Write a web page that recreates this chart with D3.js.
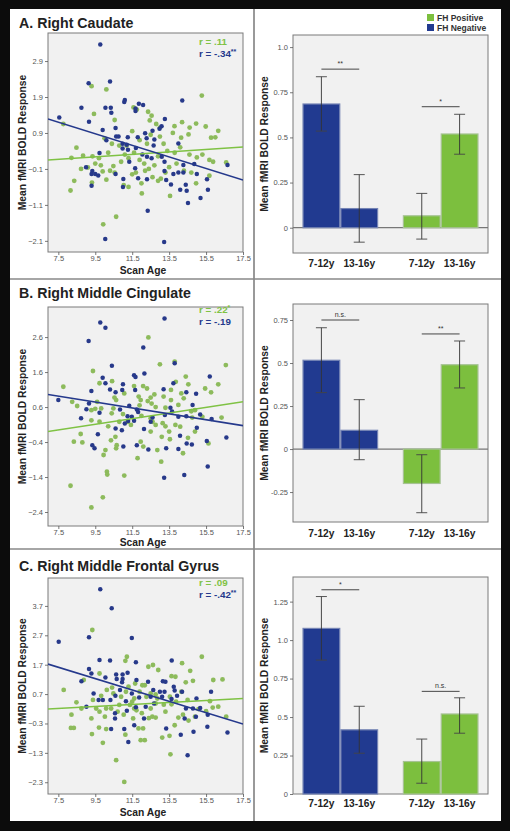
<!DOCTYPE html>
<html><head><meta charset="utf-8">
<script src="https://cdn.jsdelivr.net/npm/d3@7"></script>
<style>body{margin:0;background:#000}svg{display:block;font-family:"Liberation Sans",Arial,Helvetica,sans-serif}</style>
</head><body><svg id="c" width="510" height="831"></svg>
<script>
// ---------- DATA ----------
const titles = ["A. Right Caudate", "B. Right Middle Cingulate", "C. Right Middle Frontal Gyrus"];
const ageTicks = [7.5, 9.5, 11.5, 13.5, 15.5, 17.5];
const ageDomain = [6.94, 17.5];
const scatterYTicks = [[-2.1,-1.1,-0.1,0.9,1.9,2.9],[-2.4,-1.4,-0.4,0.6,1.6,2.6],[-2.3,-1.3,-0.3,0.7,1.7,2.7,3.7]];
const scatterYDomain = [[-2.41,3.68],[-2.8,3.46],[-2.7,4.65]];
const rPositive = [["r = .11",""],["r = .22","*"],["r = .09",""]];
const rNegative = [["r = -.34","**"],["r = -.19",""],["r = -.42","**"]];
// regression line end values at ageDomain ends
const fitPositive = [[0.15,0.51],[-0.1,0.75],[0.19,0.55]];
const fitNegative = [[1.29,-0.41],[0.96,0.07],[1.72,-0.32]];

const caudateNeg = [[9.77,3.36],[9.14,2.28],[10.3,2.33],[8.75,1.6],[10.05,1.6],[10.34,1.6],[10.37,1.46],[9.16,1.21],[7.55,1.33],[11.1,1.82],[11.07,1.76],[11.86,1.71],[12.09,1.68],[11.68,1.58],[11.68,1.51],[14.21,1.8],[9.9,0.98],[10.6,1.04],[13.27,1.29],[13.09,1.09],[12.98,1.02],[12.6,0.96],[10.63,0.8],[10.76,0.8],[11.26,0.78],[11.8,0.78],[12.2,0.89],[12.28,0.75],[12.7,0.72],[12.66,0.55],[10.98,0.6],[11.2,0.57],[11.27,0.43],[10.98,0.47],[11.7,0.48],[10.1,0.7],[9.73,0.34],[11.34,0.1],[12.3,0.24],[12.55,0.2],[13.1,0.24],[13.25,0.1],[14.0,0.61],[14.27,0.01],[14.86,0.04],[9.0,-0.05],[9.34,-0.16],[9.3,-0.24],[9.5,-0.24],[9.3,-0.57],[9.66,-0.28],[10.6,-0.24],[11.02,-0.38],[11.66,-0.08],[11.82,-0.36],[12.3,-0.39],[13.25,-0.16],[13.34,-0.41],[13.6,-0.53],[13.73,-0.24],[14.0,-0.2],[14.27,-0.2],[15.0,-0.24],[14.4,-0.54],[14.1,-0.68],[14.45,-0.71],[14.52,-1.05],[15.2,-0.91],[15.6,-0.68],[15.55,-0.39],[16.66,0.01],[12.34,-1.26],[10.04,-2.05],[13.23,-2.13],[11.0,-0.6],[12.05,0.3]];
const caudatePos = [[9.3,2.2],[10.1,2.11],[15.27,1.94],[9.43,1.43],[11.57,1.61],[11.75,1.55],[12.36,1.49],[12.55,1.38],[12.45,1.25],[12.8,1.15],[13.0,1.05],[10.55,1.26],[13.79,1.09],[14.2,1.2],[14.61,1.05],[14.96,1.16],[15.48,1.08],[16.16,0.96],[15.77,0.77],[16.0,0.78],[14.55,0.86],[14.15,0.77],[7.77,1.15],[8.48,0.49],[8.21,0.21],[8.84,0.27],[9.35,0.25],[9.7,0.2],[8.73,-0.1],[9.1,-0.06],[8.36,-0.43],[8.16,-0.7],[9.32,-0.48],[9.9,-0.17],[10.1,-0.4],[10.48,-0.02],[10.55,-0.2],[9.93,-1.64],[10.63,-1.43],[11.04,-0.55],[11.3,-0.6],[12.02,-0.78],[12.0,-0.5],[12.6,-0.33],[12.9,-0.43],[13.55,-0.85],[13.05,-0.37],[14.96,-0.5],[15.68,-0.29],[15.68,0.15],[15.88,0.1],[16.59,0.08],[15.0,0.22],[10.2,0.35],[10.4,0.6],[10.0,0.75],[11.5,0.95],[11.9,0.7],[12.3,0.6],[11.6,0.35],[11.1,0.3],[10.9,0.1],[11.9,0.15],[12.15,0.05],[12.7,0.0],[13.5,-0.05],[13.9,0.05],[14.3,-0.15],[14.7,-0.2],[13.4,0.4],[13.8,0.35],[14.1,0.5],[13.2,0.6],[13.0,0.8],[12.5,0.85],[9.8,0.0],[9.5,0.05],[10.8,0.55],[11.3,0.2],[12.2,-0.15],[13.3,-0.2],[12.4,-0.1],[11.5,-0.25],[11.7,-0.2],[14.6,0.3],[15.3,0.3],[13.7,0.9],[12.9,0.25],[10.3,-0.15],[11.2,0.55]];

const cingulateNeg = [[9.77,3.02],[10.05,2.87],[13.25,3.13],[9.14,2.49],[12.1,2.3],[12.16,1.56],[10.4,1.78],[11.6,1.51],[11.68,1.46],[13.8,1.85],[15.7,1.47],[9.9,1.44],[10.05,1.28],[11.0,1.25],[10.96,1.09],[11.66,1.09],[9.29,1.06],[10.3,1.1],[10.6,1.02],[13.2,1.11],[13.73,1.28],[14.43,1.02],[14.96,0.98],[7.5,0.8],[9.16,0.7],[9.02,0.54],[9.73,0.44],[11.34,0.64],[10.84,0.53],[11.75,0.53],[11.82,0.46],[13.57,0.58],[13.66,0.47],[14.77,0.66],[15.18,0.39],[14.43,0.34],[14.0,0.32],[8.73,0.28],[11.25,0.34],[11.48,0.32],[11.6,0.21],[11.28,0.2],[11.1,0.13],[10.6,-0.01],[10.94,-0.06],[12.14,-0.03],[12.5,0.18],[13.27,0.37],[15.8,0.26],[15.0,0.01],[9.64,-0.18],[9.34,-0.49],[9.46,-0.58],[11.02,-0.53],[11.75,-0.49],[12.375,-0.61],[13.34,-0.58],[14.0,-0.6],[14.09,-0.22],[14.45,-0.44],[14.73,-0.47],[15.54,-0.37],[16.6,-0.27],[15.59,-1.1],[14.32,-1.34],[13.23,-1.42],[12.6,0.3]];
const cingulatePos = [[12.375,2.59],[13.0,1.82],[13.8,1.9],[9.375,1.63],[16.57,1.8],[7.77,1.18],[9.73,1.28],[10.41,1.34],[11.07,0.99],[11.6,1.2],[12.09,1.2],[12.3,1.13],[12.7,0.96],[12.5,0.87],[13.2,0.9],[13.6,1.09],[13.86,1.32],[14.4,1.47],[14.54,1.25],[14.16,0.99],[13.6,0.8],[15.45,1.13],[16.16,1.25],[15.77,1.02],[8.25,0.75],[8.52,0.63],[9.29,0.51],[9.5,0.55],[9.6,0.75],[9.82,0.56],[10.39,0.42],[10.48,0.56],[10.54,0.87],[10.63,0.8],[11.85,0.9],[11.96,0.8],[11.9,0.65],[12.34,0.77],[12.55,0.7],[12.77,0.6],[13.3,0.58],[14.0,0.66],[14.29,0.85],[14.7,0.48],[14.9,0.51],[15.3,0.32],[16.34,0.3],[8.71,-0.17],[8.34,-0.39],[8.8,-0.41],[8.16,-1.65],[9.91,-1.98],[9.29,-2.27],[10.13,-1.25],[10.15,-1.33],[10.05,-0.63],[9.95,-0.77],[10.63,-0.58],[10.66,-0.49],[11.07,-1.36],[11.79,-0.86],[11.96,-0.39],[12.1,-0.53],[12.86,-0.63],[13.07,-0.96],[13.1,-0.25],[13.54,-0.32],[14.25,-0.72],[14.52,-0.28],[14.9,-0.1],[15.63,-0.44],[10.59,-0.25],[10.35,-0.35],[10.8,0.18],[11.25,0.18],[11.43,0.09],[12.5,0.28],[12.6,0.18],[12.77,0.09],[13.15,0.14],[13.3,0.05],[12.5,-0.1],[13.84,0.09],[14.1,0.04],[13.5,-0.1],[9.73,0.18],[9.29,0.22],[10.2,0.05],[14.75,0.3],[11.0,0.4],[12.0,0.35]];

const frontalNeg = [[9.77,4.27],[10.39,3.62],[7.52,2.48],[9.16,2.63],[11.48,2.61],[9.73,1.86],[10.3,1.84],[13.64,1.84],[9.16,1.55],[9.29,1.4],[8.75,1.14],[10.63,1.37],[10.98,1.37],[11.25,1.43],[10.66,1.21],[10.98,1.21],[10.95,1.1],[11.7,1.78],[11.73,1.18],[10.05,1.26],[12.36,1.12],[13.16,1.14],[13.3,1.12],[13.75,0.95],[13.25,0.78],[13.0,0.78],[12.64,0.84],[13.8,0.82],[14.2,0.78],[15.77,0.78],[9.41,0.72],[9.68,0.5],[9.91,0.5],[10.32,0.5],[10.59,0.64],[10.84,0.84],[11.16,0.46],[11.48,0.72],[11.875,0.58],[12.5,0.61],[12.68,0.38],[13.12,0.61],[13.63,0.53],[13.93,0.64],[14.98,0.55],[9.02,0.27],[11.21,0.13],[12.14,-0.13],[12.23,0.27],[14.41,0.21],[14.79,0.21],[15.18,0.23],[14.34,-0.13],[14.95,-0.07],[15.59,0.0],[10.57,0.05],[10.57,-0.13],[11.61,-0.36],[10.36,-0.49],[11.07,-0.49],[13.34,-0.47],[15.57,-0.41],[14.13,-0.68],[14.82,-0.58],[16.66,-0.61],[11.29,-0.93],[14.5,-1.38],[11.7,0.25]];
const frontalPos = [[9.34,2.88],[11.21,1.97],[11.13,1.83],[15.27,1.97],[14.2,1.75],[14.64,1.49],[12.625,1.69],[12.375,1.63],[12.91,1.52],[9.73,1.4],[8.875,1.18],[7.79,0.84],[8.48,0.42],[8.21,0.0],[8.18,-0.45],[8.34,-0.45],[8.75,0.21],[9.29,-0.13],[9.32,-0.66],[9.7,-0.44],[9.91,-0.96],[10.09,-0.49],[10.63,-1.55],[11.07,-2.29],[11.13,-0.68],[11.55,-0.13],[11.84,-0.47],[11.96,-0.87],[12.09,-0.47],[12.18,-0.87],[13.125,-0.78],[13.52,-0.72],[13.57,-1.35],[13.8,-0.36],[14.55,-0.2],[14.9,-0.07],[15.09,0.19],[15.5,0.12],[15.71,0.46],[15.86,0.24],[16.16,0.27],[16.59,-0.07],[15.89,1.18],[16.39,1.2],[14.79,1.15],[14.4,1.1],[13.84,1.29],[13.63,1.31],[14.16,0.78],[13.54,0.61],[13.875,0.44],[13.63,0.35],[14.25,0.0],[13.21,0.34],[12.77,0.38],[12.5,0.21],[12.59,-0.07],[12.77,-0.1],[12.4,-0.12],[12.18,1.0],[12.05,1.0],[11.66,1.06],[11.9,0.78],[11.61,0.55],[11.5,0.44],[11.375,0.33],[11.61,0.21],[11.73,0.15],[12.02,0.05],[10.8,0.33],[10.71,0.1],[10.36,0.21],[10.09,0.21],[10.02,-0.07],[10.48,0.72],[10.41,0.92],[10.125,0.84],[9.82,0.64],[9.375,0.5],[9.55,0.21],[9.73,0.1],[10.9,0.61],[11.04,0.0],[12.5,0.72],[12.77,0.69],[12.86,0.55],[12.27,0.61],[11.16,0.78],[11.3,0.95],[13.3,0.1],[14.0,-0.1],[14.5,0.5]];

const scatterNeg = [caudateNeg, cingulateNeg, frontalNeg];
const scatterPos = [caudatePos, cingulatePos, frontalPos];

const groups = ["FH Negative", "FH Positive"];
const ageGroups = ["7-12y", "13-16y"];
const barYDomain = [[-0.14,1.067],[-0.424,0.843],[0,1.41]];
const barYTicks = [[0,0.25,0.5,0.75,1.0],[-0.25,0,0.25,0.5,0.75],[0,0.25,0.5,0.75,1.0,1.25]];
const barYTickLabels = [["0","0.25","0.5","0.75","1.0"],["-0.25","0","0.25","0.5","0.75"],["0","0.25","0.5","0.75","1.0","1.25"]];
const meansNeg = [[0.685,0.106],[0.516,0.109],[1.076,0.417]];
const meansPos = [[0.066,0.519],[-0.2,0.49],[0.211,0.52]];
const errNeg = [[[0.535,0.836],[-0.08,0.294]],[[0.328,0.705],[-0.062,0.287]],[[0.87,1.283],[0.265,0.57]]];
const errPos = [[[-0.063,0.19],[0.407,0.628]],[[-0.37,-0.033],[0.355,0.628]],[[0.07,0.357],[0.395,0.625]]];
const sigLabelNeg = ["**","n.s.","*"];
const sigLabelPos = ["*","**","n.s."];
const sigLevelNeg = [0.878,0.75,1.327];
const sigLevelPos = [0.67,0.669,0.667];

// ---------- LAYOUT / STYLE ----------
const C = {
  blueDot:"#27398a", greenDot:"#8dbb5c", blueLine:"#25398c", greenLine:"#7fc244",
  blueBar:"#213a90", greenBar:"#7cbf3e", blueBarStroke:"#7584b4", greenBarStroke:"#a6c293",
  plotBg:"#f1f1f1", border:"#7a7a7a", text:"#222", tick:"#555"
};
const scatterBox = [{t:33,b:252},{t:307,b:526},{t:578,b:794}];
const barBox = [{t:35,b:253},{t:304,b:522},{t:577,b:794}];
const titleY = [28,298,571];
const rY = [[45,57],[313,325],[586,598]];
const xLabelY = [274,546,816];
const barLabelY = [267,537,807];
const sxL = 48, sxR = 243, bxL = 293, bxR = 488;

const svg = d3.select("#c");
svg.append("rect").attr("width",510).attr("height",831).attr("fill","#0c0c0c");
svg.append("rect").attr("x",10).attr("y",9).attr("width",491).attr("height",812).attr("fill","#fff");
svg.append("line").attr("x1",254).attr("x2",254).attr("y1",9).attr("y2",821).attr("stroke","#555").attr("stroke-width",1.2);
[279,549].forEach(y=>svg.append("line").attr("x1",10).attr("x2",501).attr("y1",y).attr("y2",y).attr("stroke","#888").attr("stroke-width",1.4));

function styleAxis(g){
  g.select(".domain").remove();
  g.selectAll(".tick line").attr("stroke",C.tick).attr("stroke-width",0.8);
  g.selectAll(".tick text").attr("fill",C.tick).attr("font-size",7.5).attr("font-family","Liberation Sans, Arial, sans-serif");
}

for (let i=0;i<3;i++){
  // ---------- SCATTER ----------
  const box = scatterBox[i];
  const x = d3.scaleLinear().domain(ageDomain).range([sxL,sxR]);
  const y = d3.scaleLinear().domain(scatterYDomain[i]).range([box.b,box.t]);
  svg.append("text").attr("x",19).attr("y",titleY[i]).attr("font-size",14.2).attr("font-weight","bold").attr("fill",C.text).text(titles[i]);
  svg.append("rect").attr("x",sxL).attr("y",box.t).attr("width",sxR-sxL).attr("height",box.b-box.t).attr("fill",C.plotBg).attr("stroke",C.border).attr("stroke-width",1);
  const clipId = "clip"+i;
  svg.append("clipPath").attr("id",clipId).append("rect").attr("x",sxL).attr("y",box.t).attr("width",sxR-sxL).attr("height",box.b-box.t);
  const gx = svg.append("g").attr("transform",`translate(0,${box.b})`).call(d3.axisBottom(x).tickValues(ageTicks).tickFormat(d3.format(".1f")).tickSize(3).tickPadding(0.5));
  styleAxis(gx);
  const gy = svg.append("g").attr("transform",`translate(${sxL},0)`).call(d3.axisLeft(y).tickValues(scatterYTicks[i]).tickFormat(d3.format(".1f")).tickSize(3).tickPadding(2));
  styleAxis(gy);
  svg.append("text").attr("x",143).attr("y",xLabelY[i]).attr("text-anchor","middle").attr("font-size",10.3).attr("font-weight","bold").attr("fill",C.text).text("Scan Age");
  svg.append("text").attr("transform",`translate(26,${(box.t+box.b)/2}) rotate(-90)`).attr("text-anchor","middle").attr("font-size",10.3).attr("font-weight","bold").attr("fill",C.text).text("Mean fMRI BOLD Response");
  const pg = svg.append("g").attr("clip-path",`url(#${clipId})`);
  pg.selectAll("circle.p").data(scatterPos[i]).join("circle").attr("class","p").attr("cx",d=>x(d[0])).attr("cy",d=>y(d[1])).attr("r",2.4).attr("fill",C.greenDot);
  pg.selectAll("circle.n").data(scatterNeg[i]).join("circle").attr("class","n").attr("cx",d=>x(d[0])).attr("cy",d=>y(d[1])).attr("r",2.25).attr("fill",C.blueDot);
  const ln = d3.line().x(d=>x(d[0])).y(d=>y(d[1]));
  pg.append("path").attr("d",ln([[ageDomain[0],fitPositive[i][0]],[ageDomain[1],fitPositive[i][1]]])).attr("stroke",C.greenLine).attr("stroke-width",1.5).attr("fill","none");
  pg.append("path").attr("d",ln([[ageDomain[0],fitNegative[i][0]],[ageDomain[1],fitNegative[i][1]]])).attr("stroke",C.blueLine).attr("stroke-width",1.6).attr("fill","none");
  const rt1 = svg.append("text").attr("x",199).attr("y",rY[i][0]).attr("font-size",9.8).attr("font-weight","bold").attr("fill",C.greenLine).text(rPositive[i][0]);
  if (rPositive[i][1]) rt1.append("tspan").attr("font-size",7).attr("dy",-3).text(rPositive[i][1]);
  const rt2 = svg.append("text").attr("x",199).attr("y",rY[i][1]).attr("font-size",9.8).attr("font-weight","bold").attr("fill",C.blueLine).text(rNegative[i][0]);
  if (rNegative[i][1]) rt2.append("tspan").attr("font-size",7).attr("dy",-3).text(rNegative[i][1]);

  // ---------- BARS ----------
  const bb = barBox[i];
  const by = d3.scaleLinear().domain(barYDomain[i]).range([bb.b,bb.t]);
  const outer = d3.scaleBand().domain(groups).range([bxL,bxR]).paddingInner(0.257).paddingOuter(0.1);
  const inner = d3.scaleBand().domain(ageGroups).range([0,outer.bandwidth()]).paddingInner(0.03);
  svg.append("rect").attr("x",bxL).attr("y",bb.t).attr("width",bxR-bxL).attr("height",bb.b-bb.t).attr("fill",C.plotBg).attr("stroke",C.border).attr("stroke-width",1);
  const gby = svg.append("g").attr("transform",`translate(${bxL},0)`).call(d3.axisLeft(by).tickValues(barYTicks[i]).tickFormat((d,k)=>barYTickLabels[i][k]).tickSize(3).tickPadding(2));
  styleAxis(gby);
  svg.append("text").attr("transform",`translate(268,${(bb.t+bb.b)/2}) rotate(-90)`).attr("text-anchor","middle").attr("font-size",10.3).attr("font-weight","bold").attr("fill",C.text).text("Mean fMRI BOLD Response");
  if (barYDomain[i][0] < 0) svg.append("line").attr("x1",bxL).attr("x2",bxR).attr("y1",by(0)).attr("y2",by(0)).attr("stroke","#777").attr("stroke-width",1.2);
  const specs = [
    {g:groups[0], means:meansNeg[i], errs:errNeg[i], fill:C.blueBar, stroke:C.blueBarStroke, sig:sigLabelNeg[i], lvl:sigLevelNeg[i]},
    {g:groups[1], means:meansPos[i], errs:errPos[i], fill:C.greenBar, stroke:C.greenBarStroke, sig:sigLabelPos[i], lvl:sigLevelPos[i]}
  ];
  specs.forEach(s=>{
    const gg = svg.append("g").attr("transform",`translate(${outer(s.g)},0)`);
    ageGroups.forEach((a,k)=>{
      const v = s.means[k];
      gg.append("rect").attr("x",inner(a)).attr("width",inner.bandwidth()).attr("y",by(Math.max(0,v))).attr("height",Math.abs(by(v)-by(0)))
        .attr("fill",s.fill).attr("stroke",s.stroke).attr("stroke-width",1.2);
    });
    ageGroups.forEach((a,k)=>{
      const cx = inner(a)+inner.bandwidth()/2;
      const [lo,hi] = s.errs[k];
      gg.append("line").attr("x1",cx).attr("x2",cx).attr("y1",by(lo)).attr("y2",by(hi)).attr("stroke","#333").attr("stroke-width",0.9);
      [lo,hi].forEach(e=>gg.append("line").attr("x1",cx-5.5).attr("x2",cx+5.5).attr("y1",by(e)).attr("y2",by(e)).attr("stroke","#444").attr("stroke-width",0.9));
      svg.append("text").attr("x",outer(s.g)+cx).attr("y",barLabelY[i]).attr("text-anchor","middle").attr("font-size",10.2).attr("font-weight","bold").attr("fill",C.text).text(a);
    });
    const c1 = inner(ageGroups[0])+inner.bandwidth()/2, c2 = inner(ageGroups[1])+inner.bandwidth()/2;
    gg.append("line").attr("x1",c1).attr("x2",c2).attr("y1",by(s.lvl)).attr("y2",by(s.lvl)).attr("stroke","#333").attr("stroke-width",0.9);
    gg.append("text").attr("x",(c1+c2)/2).attr("y",by(s.lvl)-3).attr("text-anchor","middle").attr("font-size",7).attr("fill","#333").text(s.sig);
  });
}

// ---------- LEGEND ----------
const legend = [{label:"FH Positive", c:C.greenBar},{label:"FH Negative", c:C.blueBar}];
legend.forEach((l,k)=>{
  svg.append("rect").attr("x",427).attr("y",14+k*10).attr("width",7).attr("height",7).attr("fill",l.c);
  svg.append("text").attr("x",437).attr("y",21+k*10).attr("font-size",8.5).attr("font-weight","bold").attr("fill","#333").text(l.label);
});
</script></body></html>
